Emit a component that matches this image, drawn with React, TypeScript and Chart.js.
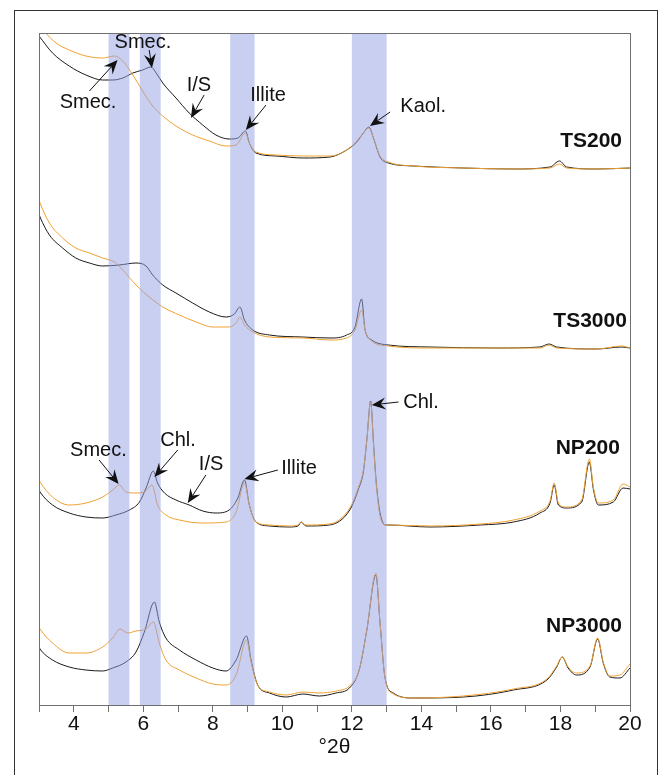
import React, { useEffect, useRef } from 'react';
import { Chart, registerables } from 'chart.js';

Chart.register(...registerables);

type Pt = [number, number];

// °2θ, intensity (a.u., curves already vertically offset)
const ts200Black: Pt[] = [
  [3.0, 670], [3.39, 653], [3.87, 640], [4.35, 631], [4.83, 626], [5.12, 626], [5.41, 628], [5.7, 633],
  [5.98, 636], [6.22, 639], [6.37, 633], [6.56, 623], [6.94, 608], [7.32, 593], [7.71, 581], [8.09, 571],
  [8.47, 567], [8.72, 568], [8.94, 575], [9.05, 563], [9.24, 553], [9.82, 550], [10.59, 548], [11.37, 549],
  [11.85, 556], [12.14, 564], [12.33, 573], [12.49, 579], [12.62, 568], [12.81, 549], [13.05, 543],
  [13.77, 540], [15.21, 538], [16.65, 537], [17.7, 539], [17.97, 545], [18.18, 539], [19.04, 537], [20.0, 538],
];
const ts200Orange: Pt[] = [
  [3.0, 684], [3.2, 673], [3.49, 663], [3.87, 656], [4.35, 650], [4.83, 648], [5.17, 650], [5.41, 645],
  [5.7, 631], [5.98, 615], [6.27, 600], [6.56, 590], [6.94, 580], [7.42, 571], [7.9, 565], [8.38, 560],
  [8.67, 561], [8.94, 573], [9.05, 563], [9.24, 554], [9.82, 551], [10.59, 550], [11.37, 550], [11.85, 556],
  [12.14, 565], [12.33, 573], [12.49, 578], [12.62, 568], [12.81, 550], [13.05, 544], [13.77, 540],
  [15.21, 538], [16.65, 537], [17.7, 538], [17.97, 542], [18.18, 538], [19.04, 537], [20.0, 538],
];
const ts3000Black: Pt[] = [
  [3.0, 492], [3.03, 489], [3.3, 471], [3.68, 458], [4.06, 448], [4.45, 443], [4.83, 440], [5.31, 441],
  [5.79, 443], [6.08, 440], [6.27, 431], [6.56, 421], [6.94, 413], [7.42, 403], [7.9, 394], [8.38, 389],
  [8.62, 392], [8.78, 399], [8.91, 386], [9.15, 376], [9.63, 371], [10.59, 369], [11.37, 368], [11.85, 371],
  [12.09, 379], [12.28, 407], [12.38, 376], [12.57, 366], [13.05, 361], [14.25, 359], [16.17, 358],
  [17.41, 359], [17.67, 362], [17.89, 359], [19.04, 357], [19.76, 359], [20.0, 358],
];
const ts3000Orange: Pt[] = [
  [3.0, 506], [3.03, 503], [3.3, 483], [3.68, 468], [4.06, 458], [4.45, 453], [4.83, 448], [5.17, 444],
  [5.41, 436], [5.79, 421], [6.17, 409], [6.56, 399], [7.04, 391], [7.52, 384], [8.0, 379], [8.47, 379],
  [8.67, 383], [8.78, 389], [8.91, 381], [9.15, 374], [9.63, 369], [10.59, 368], [11.37, 366], [11.85, 368],
  [12.09, 376], [12.28, 396], [12.38, 376], [12.57, 365], [13.05, 360], [14.25, 358], [16.17, 358],
  [17.41, 358], [17.67, 361], [17.89, 358], [19.04, 357], [19.76, 360], [20.0, 358],
];
const np200Black: Pt[] = [
  [3.0, 216], [3.03, 214], [3.39, 201], [3.87, 193], [4.35, 189], [4.83, 188], [5.21, 191], [5.6, 196],
  [5.89, 204], [6.08, 218], [6.29, 235], [6.41, 223], [6.61, 213], [6.94, 206], [7.32, 201], [7.71, 195],
  [8.09, 193], [8.47, 196], [8.72, 208], [8.91, 226], [9.05, 201], [9.24, 184], [9.63, 180], [10.2, 179],
  [10.45, 180], [10.54, 184], [10.68, 180], [11.35, 181], [11.94, 196], [12.19, 217], [12.33, 234],
  [12.43, 266], [12.54, 305], [12.62, 264], [12.7, 224], [12.81, 193], [12.98, 181], [13.05, 181],
  [14.25, 179], [15.69, 181], [16.65, 184], [17.41, 193], [17.7, 203], [17.82, 221], [17.94, 201],
  [18.18, 198], [18.61, 204], [18.83, 244], [18.95, 216], [19.09, 201], [19.52, 204], [19.8, 218], [20.0, 217],
];
const np200Orange: Pt[] = [
  [3.0, 226], [3.03, 224], [3.39, 209], [3.87, 201], [4.35, 203], [4.83, 209], [5.12, 216], [5.31, 221],
  [5.5, 214], [5.79, 213], [6.03, 214], [6.25, 221], [6.41, 201], [6.65, 191], [7.04, 186], [7.71, 183],
  [8.38, 184], [8.67, 194], [8.91, 223], [9.05, 201], [9.24, 184], [9.63, 181], [10.2, 180], [10.45, 181],
  [10.54, 184], [10.68, 181], [11.35, 182], [11.94, 198], [12.19, 219], [12.33, 236], [12.43, 266],
  [12.54, 304], [12.62, 262], [12.7, 222], [12.81, 190], [12.98, 181], [13.05, 181], [14.25, 180],
  [15.69, 182], [16.65, 186], [17.41, 195], [17.7, 205], [17.82, 223], [17.94, 203], [18.18, 199],
  [18.61, 206], [18.83, 247], [18.95, 218], [19.09, 203], [19.52, 206], [19.8, 222], [20.0, 219],
];
const np3000Black: Pt[] = [
  [3.0, 59], [3.03, 57], [3.39, 46], [3.87, 39], [4.35, 36], [4.83, 35], [5.12, 38], [5.5, 44], [5.79, 54],
  [6.03, 74], [6.32, 104], [6.46, 84], [6.65, 68], [7.04, 56], [7.52, 46], [8.0, 38], [8.38, 35], [8.67, 46],
  [8.97, 70], [9.1, 46], [9.29, 21], [9.63, 13], [10.11, 9], [10.59, 12], [11.06, 10], [11.54, 13],
  [11.93, 18], [12.21, 36], [12.43, 76], [12.69, 131], [12.81, 83], [12.95, 29], [13.19, 13], [13.77, 8],
  [15.21, 9], [16.65, 16], [17.61, 26], [17.89, 39], [18.05, 49], [18.22, 38], [18.46, 31], [18.85, 39],
  [19.07, 67], [19.23, 43], [19.42, 29], [19.71, 28], [20.0, 38],
];
const np3000Orange: Pt[] = [
  [3.0, 79], [3.03, 77], [3.39, 63], [3.87, 53], [4.35, 53], [4.83, 59], [5.12, 68], [5.33, 77], [5.55, 73],
  [5.79, 75], [6.08, 77], [6.29, 84], [6.46, 63], [6.65, 46], [7.04, 36], [7.52, 28], [8.0, 22], [8.38, 21],
  [8.67, 31], [8.97, 66], [9.1, 44], [9.29, 21], [9.63, 14], [10.11, 11], [10.59, 14], [11.06, 13],
  [11.54, 15], [11.93, 20], [12.21, 36], [12.43, 76], [12.69, 133], [12.81, 83], [12.95, 29], [13.19, 12],
  [13.77, 8], [15.21, 10], [16.65, 17], [17.61, 27], [17.89, 40], [18.05, 49], [18.22, 39], [18.46, 33],
  [18.85, 40], [19.07, 68], [19.23, 44], [19.42, 30], [19.71, 31], [20.0, 42],
];

// highlighted 2θ windows
const bands: Pt[] = [[5.0, 5.6], [5.9, 6.5], [8.5, 9.2], [12.0, 13.0]];

const sampleNames = ['TS200', 'TS3000', 'NP200', 'NP3000'];
const sampleAnchors: Pt[] = [[19.77, 565], [19.91, 385], [19.71, 258], [19.77, 80]];

// text centre, arrow tail, arrow tip (data units)
const annotations = [
  { text: 'Smec.', t: [5.99, 664], a: [6.17, 656], b: [6.25, 638] },
  { text: 'Smec.', t: [4.41, 604], a: [4.45, 615], b: [5.26, 646] },
  { text: 'I/S', t: [7.6, 621], a: [7.75, 611], b: [7.37, 588] },
  { text: 'Illite', t: [9.59, 611], a: [9.53, 601], b: [8.95, 576] },
  { text: 'Kaol.', t: [14.05, 600], a: [13.1, 594], b: [12.52, 580] },
  { text: 'Smec.', t: [4.71, 256], a: [4.73, 246], b: [5.29, 222] },
  { text: 'Chl.', t: [7.0, 266], a: [6.99, 256], b: [6.32, 229] },
  { text: 'I/S', t: [7.95, 242], a: [7.8, 231], b: [7.28, 203] },
  { text: 'Illite', t: [10.48, 238], a: [9.87, 236], b: [8.91, 227] },
  { text: 'Chl.', t: [13.99, 304], a: [13.34, 304], b: [12.57, 301] },
];

const FONT = '"Liberation Sans", Arial, Helvetica, sans-serif';
const BLACK = '#1a1a1a';
const ORANGE = '#f0a030';

function drawArrow(ctx: CanvasRenderingContext2D, sx: number, sy: number, ex: number, ey: number) {
  const dx = ex - sx, dy = ey - sy;
  const len = Math.hypot(dx, dy) || 1;
  const ux = dx / len, uy = dy / len;
  const px = -uy, py = ux;
  const L = 14, W = 6, N = 9;
  ctx.beginPath();
  ctx.moveTo(sx, sy);
  ctx.lineTo(ex - ux * N, ey - uy * N);
  ctx.stroke();
  ctx.beginPath();
  ctx.moveTo(ex, ey);
  ctx.lineTo(ex - ux * L + px * W, ey - uy * L + py * W);
  ctx.lineTo(ex - ux * N, ey - uy * N);
  ctx.lineTo(ex - ux * L - px * W, ey - uy * L - py * W);
  ctx.closePath();
  ctx.fill();
}

const overlay = {
  id: 'overlay',
  afterDatasetsDraw(chart: any) {
    const { ctx, chartArea: a, scales } = chart;
    const x = scales.x, y = scales.y;
    ctx.save();
    ctx.fillStyle = 'rgba(147,159,225,0.5)';
    bands.forEach(([b0, b1]) => {
      const x0 = x.getPixelForValue(b0), x1 = x.getPixelForValue(b1);
      ctx.fillRect(x0, a.top, x1 - x0, a.bottom - a.top);
    });
    ctx.strokeStyle = '#707070';
    ctx.lineWidth = 1;
    ctx.strokeRect(Math.round(a.left) + 0.5, Math.round(a.top) + 0.5, Math.round(a.right - a.left), Math.round(a.bottom - a.top));

    ctx.fillStyle = '#111';
    ctx.textBaseline = 'middle';
    ctx.textAlign = 'right';
    ctx.font = 'bold 21px ' + FONT;
    sampleNames.forEach((n, i) => {
      ctx.fillText(n, x.getPixelForValue(sampleAnchors[i][0]), y.getPixelForValue(sampleAnchors[i][1]));
    });

    ctx.textAlign = 'center';
    ctx.font = '20px ' + FONT;
    ctx.strokeStyle = '#111';
    ctx.lineWidth = 1;
    annotations.forEach((an) => {
      ctx.fillText(an.text, x.getPixelForValue(an.t[0]), y.getPixelForValue(an.t[1]));
      drawArrow(
        ctx,
        x.getPixelForValue(an.a[0]), y.getPixelForValue(an.a[1]),
        x.getPixelForValue(an.b[0]), y.getPixelForValue(an.b[1])
      );
    });
    ctx.restore();
  },
};

const series = [
  { data: ts200Black, color: BLACK, order: 2 },
  { data: ts200Orange, color: ORANGE, order: 1 },
  { data: ts3000Black, color: BLACK, order: 2 },
  { data: ts3000Orange, color: ORANGE, order: 1 },
  { data: np200Black, color: BLACK, order: 2 },
  { data: np200Orange, color: ORANGE, order: 1 },
  { data: np3000Black, color: BLACK, order: 2 },
  { data: np3000Orange, color: ORANGE, order: 1 },
];

export default function App() {
  const ref = useRef<HTMLCanvasElement | null>(null);
  useEffect(() => {
    if (!ref.current) return;
    const chart = new Chart(ref.current, {
      type: 'line',
      data: {
        datasets: series.map((s) => ({
          data: s.data.map(([x, y]) => ({ x, y })),
          borderColor: s.color,
          borderWidth: 1,
          pointRadius: 0,
          cubicInterpolationMode: 'monotone',
          fill: false,
          order: s.order,
        })),
      },
      options: {
        responsive: false,
        animation: false,
        events: [],
        layout: { padding: { left: 39, right: 41, top: 33, bottom: 0 } },
        plugins: { legend: { display: false }, tooltip: { enabled: false } },
        scales: {
          x: {
            type: 'linear',
            min: 3,
            max: 20,
            afterFit: (s: any) => { s.height = 70; },
            grid: { drawOnChartArea: false, drawTicks: true, tickLength: 7, color: '#707070' },
            border: { display: true, color: '#707070' },
            ticks: {
              stepSize: 1,
              autoSkip: false,
              maxRotation: 0,
              padding: 0,
              color: '#111',
              font: { size: 21, family: FONT },
              callback: (v: any) => (Number(v) % 2 === 0 ? String(v) : ''),
            },
            title: {
              display: true,
              text: '°2θ',
              color: '#111',
              font: { size: 21, family: FONT },
              padding: { top: 0, bottom: 15 },
            },
          },
          y: { display: false, min: 1, max: 673 },
        },
      },
      plugins: [overlay],
    });
    return () => chart.destroy();
  }, []);

  return (
    <div style={{ position: 'fixed', left: 0, top: 0, width: 671, height: 775, overflow: 'hidden', background: '#fff' }}>
      <div
        style={{
          position: 'absolute', left: 14, top: 10, width: 644, height: 800,
          border: '1px solid #333', boxSizing: 'border-box',
        }}
      />
      <canvas ref={ref} width={671} height={775} style={{ position: 'absolute', left: 0, top: 0, width: 671, height: 775 }} />
    </div>
  );
}
